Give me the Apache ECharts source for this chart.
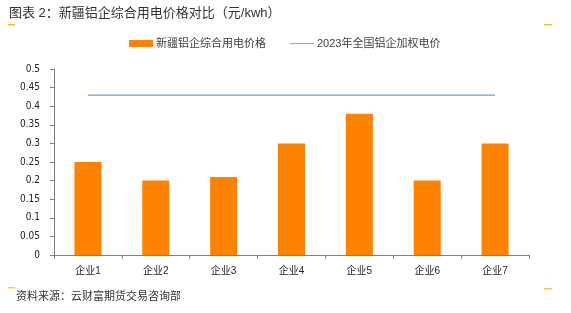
<!DOCTYPE html>
<html>
<head>
<meta charset="utf-8">
<script src="https://cdn.jsdelivr.net/npm/echarts@6/dist/echarts.min.js"></script>
<style>
  html, body { margin: 0; padding: 0; background: #fff; }
  #chart { width: 571px; height: 313px; }
</style>
</head>
<body>
<div id="chart"></div>
<script>
// 数据
const categories = ["企业1", "企业2", "企业3", "企业4", "企业5", "企业6", "企业7"];
const xjPrice = [0.25, 0.2, 0.21, 0.3, 0.38, 0.2, 0.3];
const nationalAvg = [0.43, 0.43, 0.43, 0.43, 0.43, 0.43, 0.43];

const font = "Arial, 'Liberation Sans', 'Noto Sans CJK SC', sans-serif";

const chart = echarts.init(document.getElementById("chart"));

chart.setOption({
  animation: false,
  textStyle: { fontFamily: font },
  title: {
    text: "图表 2：新疆铝企综合用电价格对比（元/kwh）",
    left: 9, top: 7,
    padding: 0,
    textStyle: { fontSize: 13, fontWeight: "normal", color: "#333", fontFamily: font }
  },
  // 角标装饰
  graphic: [
    { type: "rect", shape: { x: 8, y: 24, width: 7, height: 1.5 }, style: { fill: "#f0c020" } },
    { type: "rect", shape: { x: 544, y: 24, width: 8, height: 1.5 }, style: { fill: "#f0c020" } },
    { type: "rect", shape: { x: 8, y: 287, width: 7, height: 1.5 }, style: { fill: "#f0d040" } },
    { type: "rect", shape: { x: 544, y: 288, width: 8, height: 1.5 }, style: { fill: "#f0d040" } },
    {
      type: "text", left: 16, top: 291,
      style: { text: "资料来源：云财富期货交易咨询部", fontSize: 11, fill: "#333", fontFamily: font }
    }
  ],
  legend: {
    top: 38, left: 129,
    padding: 0,
    itemGap: 24,
    itemWidth: 24, itemHeight: 7,
    textStyle: { fontSize: 11, color: "#404040", padding: [0, 0, 0, -2] },
    data: [
      { name: "新疆铝企综合用电价格", icon: "rect" },
      { name: "2023年全国铝企加权电价", icon: "path://M0,0 L24,0 L24,0.9 L0,0.9 Z" }
    ]
  },
  grid: { left: 54, right: 42, top: 69, bottom: 58 },
  xAxis: {
    type: "category",
    data: categories,
    axisLine: { lineStyle: { color: "#808080", width: 1 } },
    axisTick: { show: true, length: 4, lineStyle: { color: "#808080" } },
    axisLabel: { fontSize: 10, color: "#222", margin: 11 }
  },
  yAxis: {
    type: "value",
    min: 0, max: 0.5, interval: 0.05,
    splitLine: { show: false },
    axisLine: { show: true, lineStyle: { color: "#808080" } },
    axisTick: { show: true, length: 4, lineStyle: { color: "#808080" } },
    axisLabel: {
      fontSize: 10, color: "#222", margin: 14,
      fontFamily: "'Liberation Sans Narrow', 'DejaVu Sans Condensed', Arial, sans-serif",
      formatter: v => String(Math.round(v * 100) / 100)
    }
  },
  series: [
    {
      name: "新疆铝企综合用电价格",
      type: "bar",
      data: xjPrice,
      barWidth: 27,
      itemStyle: { color: "#ff8200" }
    },
    {
      name: "2023年全国铝企加权电价",
      type: "line",
      data: nationalAvg,
      symbol: "none",
      lineStyle: { color: "#7f9fd0", width: 1.2 },
      itemStyle: { color: "#7f9fd0" }
    }
  ]
});
</script>
</body>
</html>
